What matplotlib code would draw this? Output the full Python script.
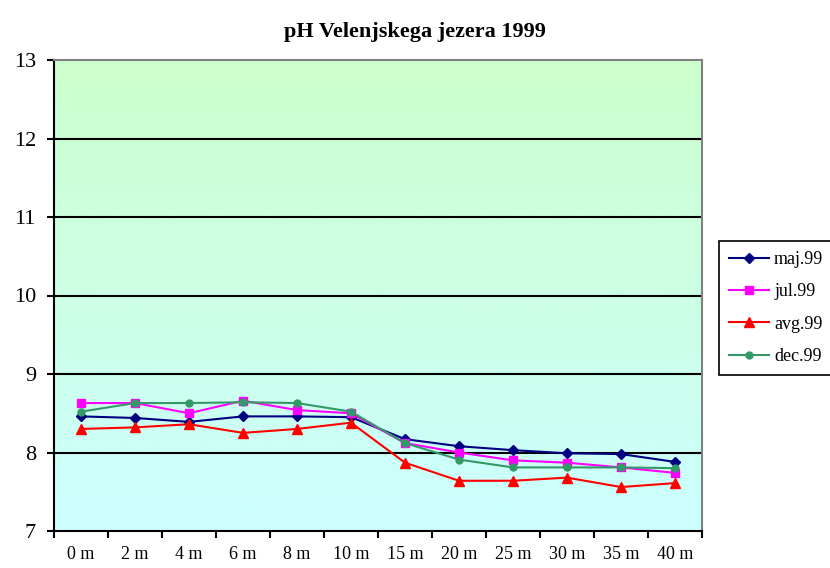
import numpy as np
import matplotlib
matplotlib.use("Agg")
import matplotlib.pyplot as plt
from matplotlib.colors import LinearSegmentedColormap

depths = ["0 m", "2 m", "4 m", "6 m", "8 m", "10 m", "15 m", "20 m", "25 m", "30 m", "35 m", "40 m"]
maj99 = [8.46, 8.44, 8.39, 8.46, 8.46, 8.45, 8.17, 8.08, 8.03, 7.99, 7.98, 7.88]
jul99 = [8.63, 8.63, 8.50, 8.66, 8.54, 8.50, 8.12, 8.00, 7.90, 7.87, 7.81, 7.74]
avg99 = [8.30, 8.32, 8.36, 8.25, 8.30, 8.38, 7.87, 7.64, 7.64, 7.68, 7.56, 7.61]
dec99 = [8.52, 8.63, 8.63, 8.64, 8.63, 8.52, 8.12, 7.91, 7.81, 7.81, 7.81, 7.80]
y_ticks = [7, 8, 9, 10, 11, 12, 13]

series = [
    ("maj.99", maj99, "#000080", "D", 5),
    ("jul.99", jul99, "#FF00FF", "s", 6),
    ("avg.99", avg99, "#FF0000", "^", 7),
    ("dec.99", dec99, "#339966", "o", 5),
]

plt.rcParams['font.family'] = ['Liberation Serif', 'DejaVu Serif']

fig = plt.figure(figsize=(8.3, 5.68), dpi=100)
ax = fig.add_axes([54/830, 1-531/568, (702-54)/830, (531-60)/568])

# gradient background
cmap = LinearSegmentedColormap.from_list("bg", ["#CCFFFF", "#CCFFCC"])
grad = np.linspace(0, 1, 256).reshape(-1, 1)
ax.imshow(grad, aspect='auto', cmap=cmap, origin='lower',
          extent=[0, 1, 0, 1], transform=ax.transAxes, zorder=0)

x = np.arange(len(depths))
for name, vals, col, mk, ms in series:
    ax.plot(x, vals, color=col, marker=mk, markersize=ms, linewidth=1.5,
            label=name, zorder=3)

ax.set_xlim(-0.5, len(depths) - 0.5)
ax.set_ylim(7, 13)
ax.set_yticks(y_ticks)
ax.set_yticklabels([str(t) for t in y_ticks], fontsize=16)
for t in y_ticks[1:-1]:
    ax.axhline(t, color='black', linewidth=1.5, zorder=2)

ax.set_xticks(np.arange(-0.5, len(depths), 1.0))
ax.set_xticklabels([])
ax.set_xticks(x, minor=True)
ax.set_xticklabels(depths, minor=True, fontsize=13)
ax.tick_params(axis='x', which='major', length=5, width=1.5, direction='out')
ax.tick_params(axis='x', which='minor', length=0, pad=11)
ax.tick_params(axis='y', length=5, width=1.5, direction='out', pad=8)

ax.spines['left'].set_color('black')
ax.spines['left'].set_linewidth(1.5)
ax.spines['bottom'].set_color('black')
ax.spines['bottom'].set_linewidth(1.5)
ax.spines['top'].set_color('#808080')
ax.spines['top'].set_linewidth(1.5)
ax.spines['right'].set_color('#808080')
ax.spines['right'].set_linewidth(1.5)

fig.text(0.5, 1-32/568, "pH Velenjskega jezera 1999", ha='center', va='center',
         fontsize=16, fontweight='bold')

leg = fig.legend(loc='upper left', bbox_to_anchor=(719/830, 1-241/568),
                 fontsize=13, frameon=True, fancybox=False, edgecolor='black',
                 framealpha=1, handlelength=2.2, labelspacing=0.85,
                 borderpad=0.55, borderaxespad=0, handletextpad=0.3)
leg.get_frame().set_linewidth(1.2)

fig.savefig("out.png", dpi=100)
